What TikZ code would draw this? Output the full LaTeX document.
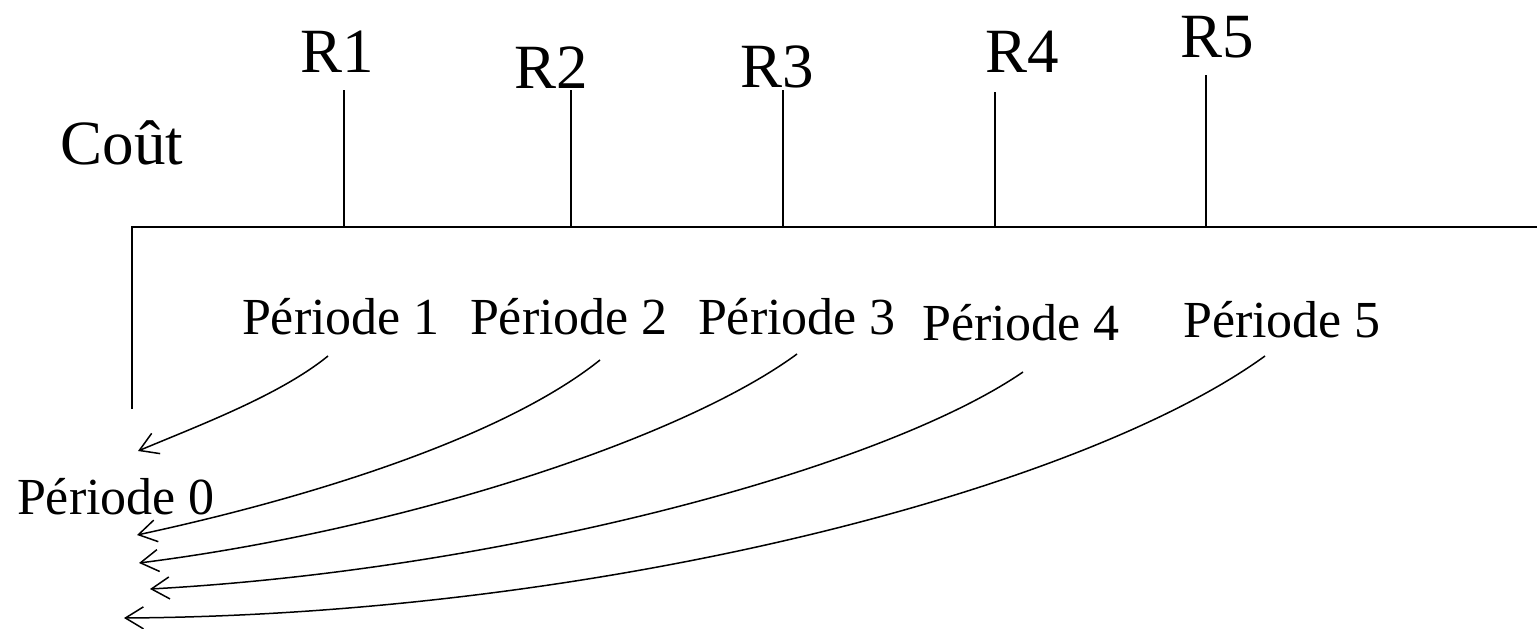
\documentclass[tikz,border=0pt]{standalone}
\usepackage{fontspec}
\setmainfont{Liberation Serif}
\usetikzlibrary{arrows.meta}
\begin{document}
\begin{tikzpicture}[x=1pt,y=-1pt,
  axisline/.style={line width=2pt},
  tickline/.style={line width=1.3pt},
  biglabel/.style={inner sep=0pt,anchor=base,font=\fontsize{63}{70}\selectfont},
  perlabel/.style={inner sep=0pt,anchor=base,font=\fontsize{52}{60}\selectfont},
  flow/.style={line width=1.5pt,-{Straight Barb[length=18pt,width=22pt]}}]
\useasboundingbox (0,0) rectangle (1537,629);
% axes
\coordinate (o) at (132,409);
\coordinate (c) at (132,227);
\coordinate (e) at (1537,227);
\draw[axisline] (o) -- (c) -- (e);
% ticks
\foreach \n/\x/\top in {1/344/90,2/571/90,3/783/90,4/995/92,5/1206/75}{
  \coordinate (tb\n) at (\x,227);
  \coordinate (tt\n) at (\x,\top);
  \draw[tickline] (tb\n) -- (tt\n);
}
% labels
\node[biglabel] (cout) at (122,164) {Coût};
\node[biglabel] (r1) at (337,72) {R1};
\node[biglabel] (r2) at (551,88) {R2};
\node[biglabel] (r3) at (777,87) {R3};
\node[biglabel] (r4) at (1022,72) {R4};
\node[biglabel] (r5) at (1217,57) {R5};
\node[perlabel] (p1) at (341,334) {Période 1};
\node[perlabel] (p2) at (569,334) {Période 2};
\node[perlabel] (p3) at (797,334) {Période 3};
\node[perlabel] (p4) at (1021,340) {Période 4};
\node[perlabel] (p5) at (1282,337) {Période 5};
\node[perlabel] (p0) at (116,514) {Période 0};
% curve ends
\coordinate (s1) at (328,356);
\coordinate (s2) at (600,360);
\coordinate (s3) at (797,354);
\coordinate (s4) at (1023,372);
\coordinate (s5) at (1265,356);
\coordinate (t1) at (138,451);
\coordinate (t2) at (137,535);
\coordinate (t3) at (139,563);
\coordinate (t4) at (150,589);
\coordinate (t5) at (124,618);
\draw[flow] (s1) .. controls (280,395) and (200,425) .. (t1);
\draw[flow] (s2) .. controls (500,440) and (300,500) .. (t2);
\draw[flow] (s3) .. controls (680,440) and (400,530) .. (t3);
\draw[flow] (s4) .. controls (880,470) and (500,570) .. (t4);
\draw[flow] (s5) .. controls (1080,490) and (600,615) .. (t5);
\end{tikzpicture}
\end{document}
